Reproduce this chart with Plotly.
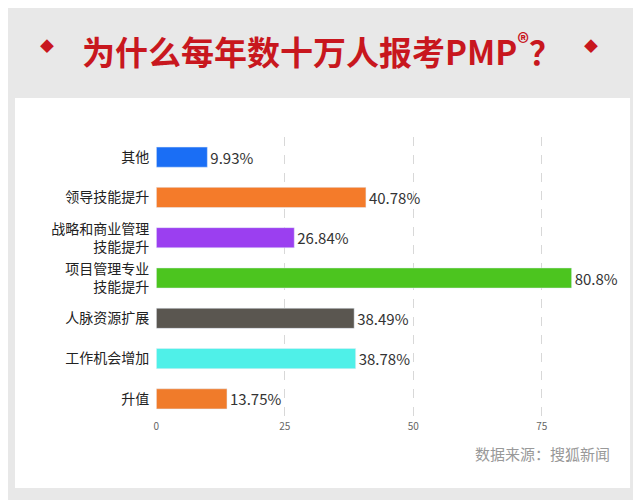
import plotly.graph_objects as go

categories = ["其他", "领导技能提升", "战略和商业管理<br>技能提升", "项目管理专业<br>技能提升", "人脉资源扩展", "工作机会增加", "升值"]
values = [9.93, 40.78, 26.84, 80.8, 38.49, 38.78, 13.75]
labels = ["9.93%", "40.78%", "26.84%", "80.8%", "38.49%", "38.78%", "13.75%"]
colors = ["#1a6ef5", "#f47b2a", "#9b3ff0", "#4cc51f", "#5a5650", "#4ff0e8", "#f07b2a"]
tickvals = [0, 25, 50, 75]

W, H = 633, 492
OX, OY = 8, 8  # page offset
def px(x): return (x - OX) / W
def py(y): return (H - (y - OY)) / H

fig = go.Figure(go.Bar(
    x=values, y=categories, orientation="h", marker_color=colors,
    text=labels, textposition="outside", cliponaxis=False,
    textfont=dict(size=15, color="#333"),
))
fig.update_layout(
    width=W, height=H, margin=dict(l=0, r=0, t=0, b=0),
    paper_bgcolor="#e8e8e8", plot_bgcolor="rgba(0,0,0,0)",
    font=dict(family="Noto Sans CJK SC"), showlegend=False, bargap=0.5,
    uniformtext=dict(minsize=15, mode="show"),
    xaxis=dict(domain=[px(154), px(593)], range=[0, 85], tickvals=tickvals,
               showgrid=True, gridcolor="#d8d8d8", griddash="dash",
               zeroline=False, tickfont=dict(size=10, color="#666"), ticks=""),
    yaxis=dict(domain=[py(419), py(137)], autorange="reversed",
               tickfont=dict(size=14, color="#222"), ticks="", ticklabelstandoff=6),
    shapes=[dict(type="rect", xref="paper", yref="paper", x0=px(12), x1=px(630),
                 y0=py(488), y1=py(98), fillcolor="white", line_width=0, layer="below")],
    annotations=[
        dict(text="<b>为什么每年数十万人报考PMP<sup>®</sup>？</b>", x=px(320), y=py(22),
             xref="paper", yref="paper", showarrow=False,
             font=dict(size=33, color="#c8171e")),
        dict(text="◆", x=px(35), y=py(33), xref="paper", yref="paper", showarrow=False,
             font=dict(size=14, color="#c8171e")),
        dict(text="◆", x=px(600), y=py(33), xref="paper", yref="paper", showarrow=False,
             font=dict(size=14, color="#c8171e")),
        dict(text="数据来源：搜狐新闻", x=px(612), y=py(466), xref="paper", yref="paper",
             xanchor="right", showarrow=False, font=dict(size=15, color="#999")),
    ],
)
fig.write_html("out.html")
